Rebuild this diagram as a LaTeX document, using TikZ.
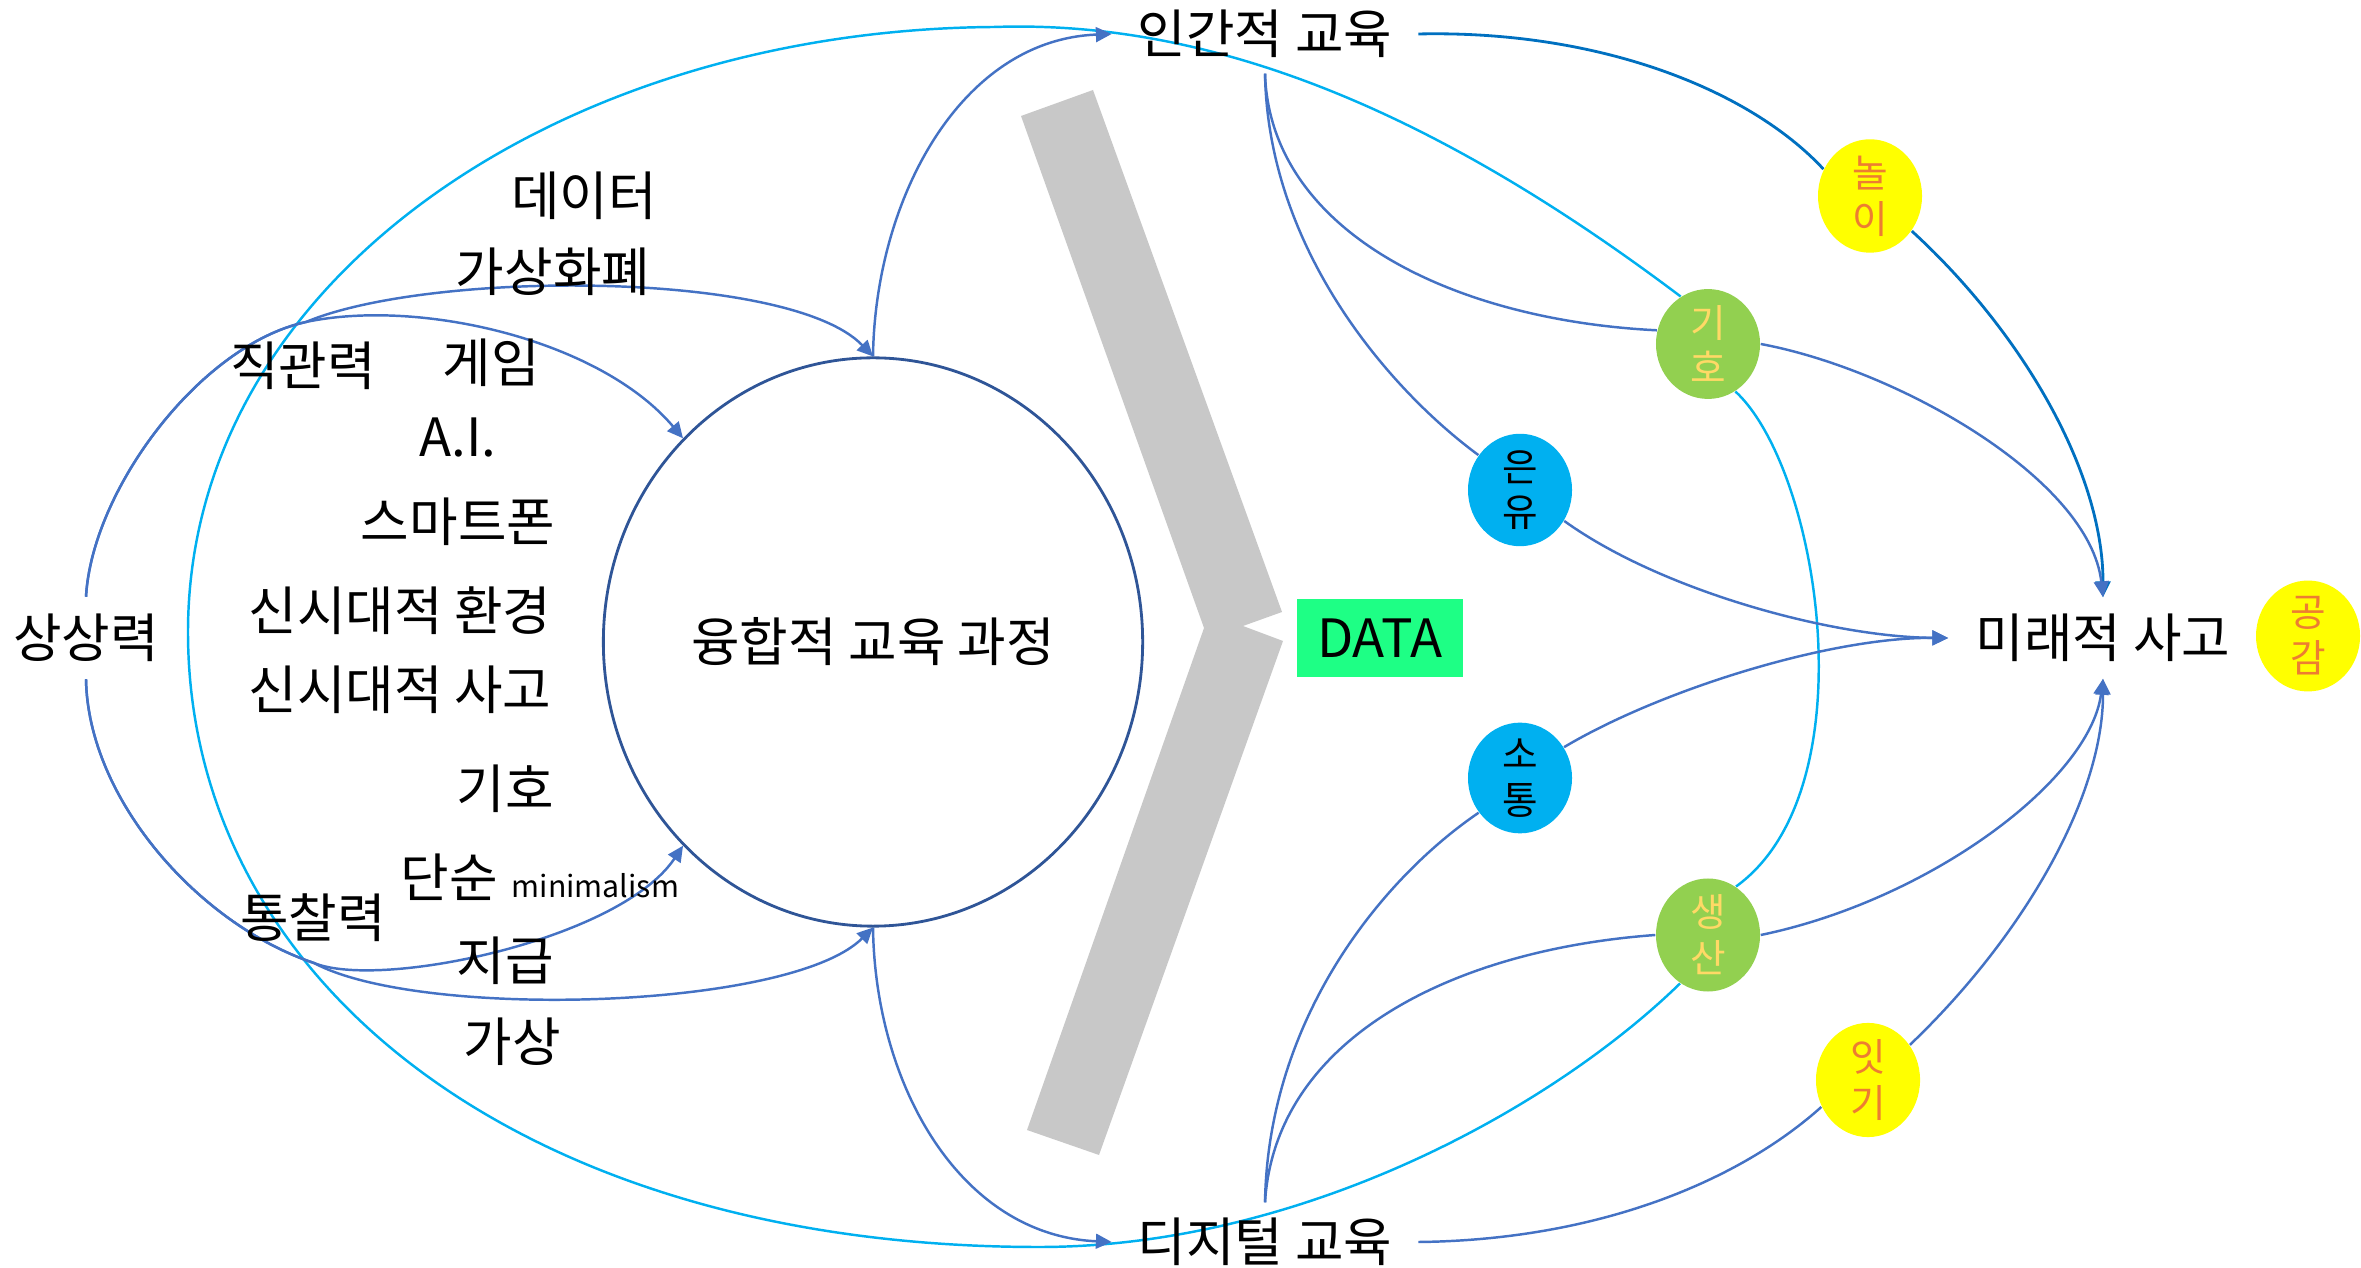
\documentclass[tikz,border=0pt]{standalone}
\usepackage{fontspec}
\setmainfont{Noto Sans CJK KR}
\usetikzlibrary{arrows.meta,shapes.geometric,backgrounds}
\definecolor{lblue}{HTML}{4472C4}
\definecolor{dblue}{HTML}{0070C0}
\definecolor{cyanl}{HTML}{00B0F0}
\definecolor{navy}{HTML}{2F5597}
\definecolor{chev}{HTML}{C8C8C8}
\definecolor{datag}{HTML}{1EFF85}
\definecolor{ylw}{HTML}{FFFF00}
\definecolor{grn}{HTML}{92D050}
\definecolor{orng}{HTML}{ED7D31}
\definecolor{lyel}{HTML}{FFD966}
\tikzset{
  lbl/.style={font=\fontsize{15}{17}\selectfont, inner sep=0pt},
  hub/.style={lbl, minimum width=3.05cm, minimum height=0.78cm},
  bub/.style={ellipse, minimum width=1.04cm, minimum height=0.98cm, inner sep=0pt,
    align=center, font=\fontsize{11}{13}\selectfont},
  conn/.style={draw=lblue, line width=0.7pt},
  arr/.style={-{Triangle[length=4.5pt,width=4.2pt]}},
  cyanconn/.style={draw=cyanl, line width=0.7pt},
}
\begin{document}
\begin{tikzpicture}[x=0.01cm, y=-0.01cm]
\useasboundingbox (0,0) rectangle (2361,1268);

% main nodes
\node[hub] (ig) at (1265,34) {인간적 교육};
\node[hub] (dg) at (1265,1242) {디지털 교육};
\node[lbl, minimum width=3.08cm, minimum height=0.8cm] (ms) at (2103,638) {미래적 사고};
\node[lbl, minimum height=0.81cm] (sang) at (86,638) {상상력};
\node[lbl] (jik) at (303,366) {직관력};
\node[lbl] (tong) at (313,918) {통찰력};
\node[ellipse, draw=navy, line width=0.8pt, minimum width=5.39cm, minimum height=5.68cm,
  inner sep=0pt, font=\fontsize{15}{17}\selectfont] (conv) at (873,642) {융합적 교육 과정};

% left list
\node[lbl] (t1) at (584,196) {데이터};
\node[lbl] (t2) at (553,272) {가상화폐};
\node[lbl] (t3) at (491,363) {게임};
\node[lbl] (t4) at (458,438) {A.I.};
\node[lbl] (t5) at (458,522) {스마트폰};
\node[lbl] (t6) at (400,611) {신시대적 환경};
\node[lbl] (t7) at (400,690) {신시대적 사고};
\node[lbl] (t8) at (505,789) {기호};
\node[lbl, anchor=base west] (t9) at (400,898) {단순\hspace{4pt}{\fontsize{8.6}{10}\selectfont minimalism}};
\node[lbl] (t10) at (505,961) {지급};
\node[lbl] (t11) at (512,1042) {가상};

% DATA
\node[lbl, fill=datag, minimum width=1.65cm, minimum height=0.78cm] (data) at (1380,638) {DATA};

% bubbles
\node[bub, fill=ylw, text=orng] (nori) at (1870,196) {놀\\이};
\node[bub, fill=grn, text=lyel] (giho) at (1708,344) {기\\호};
\node[bub, fill=cyanl, text=black] (eunyu) at (1520,490) {은\\유};
\node[bub, fill=cyanl, text=black] (sotong) at (1520,778) {소\\통};
\node[bub, fill=grn, text=lyel] (saeng) at (1708,935) {생\\산};
\node[bub, fill=ylw, text=orng] (itgi) at (1868,1080) {잇\\기};
\node[bub, fill=ylw, text=orng] (gong) at (2308,636) {공\\감};

\coordinate (jt) at (306,322);
\coordinate (jb) at (314,963);

\begin{scope}[on background layer]
  % chevron
  \fill[chev] (1021,116) -- (1093,90) -- (1282,612) -- (1243,626) -- (1283,641)
    -- (1099,1155) -- (1027,1130) -- (1204,628) -- cycle;

  % cyan loop
  \draw[cyanconn] (giho.120) .. controls (1420,100) and (1200,20) .. (994,27)
    .. controls (560,30) and (188,280) .. (188,632)
    .. controls (188,980) and (520,1247) .. (1039,1247)
    .. controls (1300,1247) and (1550,1110) .. (saeng.-120);
  \draw[cyanconn] (giho.-60) .. controls (1820,470) and (1870,790) .. (saeng.60);

  % left side
  \draw[conn,arr] (sang.north) .. controls (92,490) and (200,345) .. (jt)
    .. controls (420,298) and (600,340) .. (conv.133);
  \draw[conn,arr] (sang.north) .. controls (92,490) and (200,345) .. (jt)
    .. controls (430,270) and (790,270) .. (conv.north);
  \draw[conn,arr] (sang.south) .. controls (88,800) and (200,925) .. (jb)
    .. controls (380,990) and (620,940) .. (conv.-133);
  \draw[conn,arr] (sang.south) .. controls (88,800) and (200,925) .. (jb)
    .. controls (420,1020) and (790,1010) .. (conv.south);

  \draw[conn,arr] (conv.north) .. controls (875,200) and (960,40) .. (ig.west);
  \draw[conn,arr] (conv.south) .. controls (875,1085) and (960,1235) .. (dg.west);

  % right side
  \draw[conn, draw=dblue, line width=0.8pt] (ig.east) .. controls (1600,30) and (1750,90) .. (nori.150);
  \draw[conn, draw=dblue, line width=0.8pt, arr] (nori.-40) .. controls (2020,330) and (2103,470) .. (ms.north);
  \draw[conn] (ig.south) .. controls (1270,230) and (1450,320) .. (giho.165);
  \draw[conn,arr] (giho.east) .. controls (1900,370) and (2090,480) .. (ms.north);
  \draw[conn] (ig.south) .. controls (1268,250) and (1390,390) .. (eunyu.140);
  \draw[conn,arr] (eunyu.-35) .. controls (1660,590) and (1830,637) .. (ms.west);
  \draw[conn,arr] (sotong.35) .. controls (1660,690) and (1830,637) .. (ms.west);
  \draw[conn] (dg.north) .. controls (1268,1020) and (1380,880) .. (sotong.-140);
  \draw[conn] (dg.north) .. controls (1275,1040) and (1450,950) .. (saeng.west);
  \draw[conn,arr] (saeng.east) .. controls (1930,900) and (2090,780) .. (ms.south);
  \draw[conn] (dg.east) .. controls (1600,1240) and (1740,1180) .. (itgi.-150);
  \draw[conn,arr] (itgi.40) .. controls (2020,940) and (2103,800) .. (ms.south);
\end{scope}
\end{tikzpicture}
\end{document}
